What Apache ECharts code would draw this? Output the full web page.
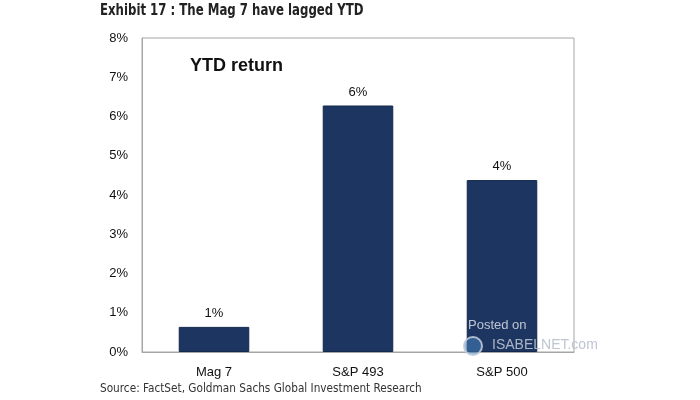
<!DOCTYPE html>
<html><head><meta charset="utf-8">
<script src="https://cdn.jsdelivr.net/npm/echarts@6/dist/echarts.min.js"></script>
<style>html,body{margin:0;padding:0;background:#fff}#c{width:700px;height:400px}</style>
</head><body><div id="c"></div>
<script>
var categories = ['Mag 7', 'S&P 493', 'S&P 500'];
var ytdReturn = [0.64, 6.28, 4.38];
var yTicks = [0, 1, 2, 3, 4, 5, 6, 7, 8];

var chart = echarts.init(document.getElementById('c'));
chart.setOption({
  animation: false,
  backgroundColor: '#fff',
  grid: {left: 142, right: 126, top: 38, bottom: 48, show: true, borderColor: '#a6a6a6', borderWidth: 1},
  xAxis: {
    type: 'category', data: categories,
    axisLine: {lineStyle: {color: '#a6a6a6'}},
    axisTick: {show: false},
    axisLabel: {fontFamily: 'Liberation Sans', fontSize: 13, color: '#111', margin: 14}
  },
  yAxis: {
    type: 'value', min: 0, max: 8, interval: 1,
    splitLine: {show: false},
    axisLine: {show: true, lineStyle: {color: '#a6a6a6'}},
    axisTick: {show: false},
    axisLabel: {fontFamily: 'Liberation Sans', fontSize: 13, color: '#111', margin: 14,
      formatter: function (v) { return yTicks.indexOf(v) >= 0 ? v + '%' : ''; }}
  },
  series: [{
    type: 'bar', data: ytdReturn, barWidth: '49%',
    itemStyle: {color: '#1d3661', borderColor: '#13284b', borderWidth: 1},
    label: {show: true, position: 'top', distance: 7, fontFamily: 'Liberation Sans', fontSize: 13, color: '#111',
      formatter: function (p) { return Math.round(p.value) + '%'; }}
  }],
  graphic: [
    {type: 'text', x: 100, y: 4, scaleX: 0.87, style: {text: 'Exhibit 17 : The Mag 7 have lagged YTD', font: 'bold 15px "DejaVu Sans Condensed"', fill: '#222'}},
    {type: 'text', left: 190, top: 57, style: {text: 'YTD return', font: 'bold 18px "Liberation Sans"', fill: '#111'}},
    {type: 'circle', z: 100, shape: {cx: 473, cy: 346, r: 9}, style: {fill: 'rgba(70,130,190,0.55)', stroke: 'rgba(190,200,215,0.9)', lineWidth: 2}},
    {type: 'text', z: 100, left: 468, top: 319, style: {text: 'Posted on', font: '13px "Liberation Sans"', fill: 'rgba(205,210,220,0.92)'}},
    {type: 'text', z: 100, left: 492, top: 338, style: {text: 'ISABELNET.com', font: '14px "Liberation Sans"', fill: 'rgba(185,192,205,0.92)'}},
    {type: 'text', x: 100, y: 382, scaleX: 0.9, style: {text: 'Source: FactSet, Goldman Sachs Global Investment Research', font: '13px "DejaVu Sans Condensed"', fill: '#333'}}
  ]
});
</script></body></html>
